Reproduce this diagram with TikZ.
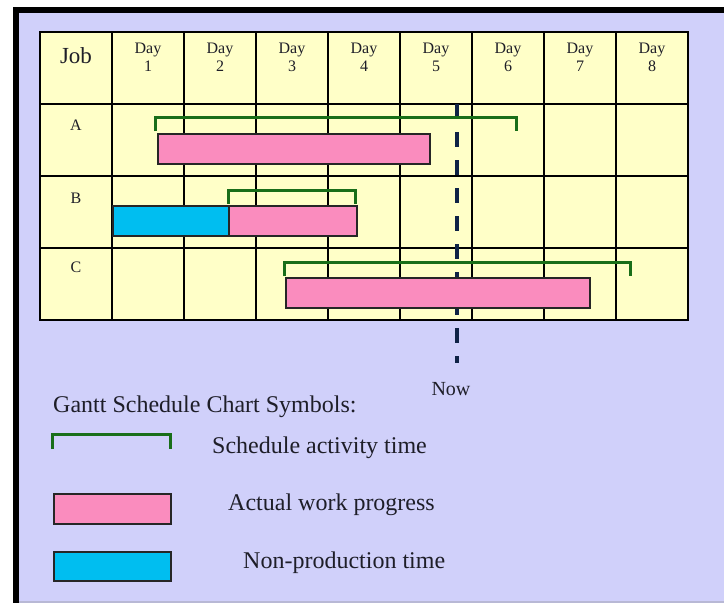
\documentclass[tikz,border=0pt]{standalone}
\usepackage{fontspec}
\setmainfont{Liberation Serif}
\usetikzlibrary{positioning}
\definecolor{lavender}{RGB}{208,208,250}
\definecolor{cellyellow}{RGB}{255,255,200}
\definecolor{workpink}{RGB}{250,140,190}
\definecolor{idlecyan}{RGB}{0,190,240}
\definecolor{schedgreen}{RGB}{25,110,25}
\definecolor{nownavy}{RGB}{15,35,70}
\definecolor{inkgray}{RGB}{30,30,40}
\tikzstyle{cell} =
[rectangle, minimum width = 72pt, minimum height = 72pt, inner sep = 0pt,
draw=black, line width = 1.6pt, fill=cellyellow]
\tikzstyle{work} =
[rectangle, anchor = north west, minimum height = 30pt, inner sep = 0pt,
draw=black!85, line width = 1.5pt, fill=workpink]
\tikzstyle{idle} = [work, fill=idlecyan]
\tikzstyle{sched} = [draw=schedgreen, line width = 3pt]
\tikzstyle{nowline} = [draw=nownavy, line width = 3.5pt,
dash pattern = on 15pt off 13pt]
\tikzstyle{head} =
[inner sep = 0pt, align = center, text=inkgray,
font=\fontsize{16}{18}\selectfont]
\tikzstyle{jobname} =
[inner sep = 0pt, text=inkgray, font=\fontsize{16}{18}\selectfont]
\tikzstyle{legend} =
[inner sep = 0pt, anchor = base west, text=inkgray,
font=\fontsize{24}{28}\selectfont]

\begin{document}
\begin{tikzpicture}[x=1pt, y=-1pt]
  % frame
  \useasboundingbox (0,0) rectangle (724,603);
  \fill [white] (0,0) rectangle (724,603);
  \fill [lavender] (13,7) rectangle (724,603);
  \fill [black] (13,7) rectangle (724,13);
  \fill [black] (13,7) rectangle (19,603);
  \draw [lavender!70!gray, line width = 1.5pt] (19,602) -- (724,602);
  %
  % grid nodes
  \foreach \c in {0,...,8}
    \foreach \r in {0,...,3}
      \node [cell] (cell-\c-\r) at ({76+72*\c},{68+72*\r}) {};
  % header nodes
  \node [head, font=\fontsize{23}{26}\selectfont, below=16pt of cell-0-0.north]
   (job) {Job};
  \foreach \c in {1,...,8}
    \node [head, below=12pt of cell-\c-0.north] (day\c) {Day\\\c};
  \node [jobname, below=17pt of cell-0-1.north] (jobA) {A};
  \node [jobname, below=18pt of cell-0-2.north] (jobB) {B};
  \node [jobname, below=15pt of cell-0-3.north] (jobC) {C};
  %
  % now line
  \coordinate (nowtop) at (457,104);
  \coordinate (nowend) at (457,363);
  \path [nowline] (nowtop) -- (nowend);
  \node [legend, anchor = base, font=\fontsize{20}{22}\selectfont]
   (now) at (451,395) {Now};
  %
  % schedule brackets
  \draw [sched] (155,131) |- (516,117) -- (516,131);
  \draw [sched] (228,204) |- (355,190) -- (355,204);
  \draw [sched] (284,276) |- (630,262) -- (630,276);
  % progress bars
  \node [work, minimum width = 272pt] (workA) at (157,133) {};
  \node [idle, minimum width = 116pt] (idleB) at (112,205) {};
  \node [work, minimum width = 128pt] (workB) at (228,205) {};
  \node [work, minimum width = 304pt] (workC) at (285,277) {};
  %
  % legend
  \node [legend] (symbols) at (53,412) {Gantt Schedule Chart Symbols:};
  \draw [sched] (52,449) |- (170,434) -- (170,449);
  \node [legend] (schedtext) at (212,453) {Schedule activity time};
  \node [work, minimum width = 117pt] (workkey) at (53,493) {};
  \node [legend] (worktext) at (228,510) {Actual work progress};
  \node [idle, minimum width = 117pt, minimum height = 29pt] (idlekey)
   at (53,551) {};
  \node [legend] (idletext) at (243,568) {Non-production time};
\end{tikzpicture}
\end{document}
